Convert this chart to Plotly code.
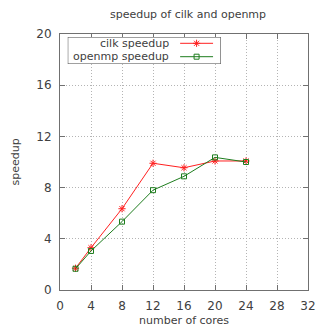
import plotly.graph_objects as go

cores = [2, 4, 8, 12, 16, 20, 24]
cilk = [1.7, 3.3, 6.35, 9.9, 9.55, 10.08, 10.08]
openmp = [1.66, 3.05, 5.34, 7.8, 8.88, 10.36, 10.0]
x_ticks = [0, 4, 8, 12, 16, 20, 24, 28, 32]
y_ticks = [0, 4, 8, 12, 16, 20]
legend_names = ["cilk speedup", "openmp speedup"]

RED = "#ff2020"
GREEN = "#1e7d1e"
TXT = "#404040"
AX = "#707070"
FONT = "DejaVu Sans"

fig = go.Figure()
fig.add_trace(go.Scatter(x=cores, y=cilk, mode="lines+markers",
                         line=dict(color=RED, width=1),
                         marker=dict(symbol="asterisk-open", size=6, color=RED, line=dict(color=RED, width=1)),
                         showlegend=False))
fig.add_trace(go.Scatter(x=cores, y=openmp, mode="lines+markers",
                         line=dict(color=GREEN, width=1),
                         marker=dict(symbol="square-open", size=5, color=GREEN, line=dict(color=GREEN, width=1)),
                         showlegend=False))

# custom legend (gnuplot style: text right, sample line on right)
# legend box spans pixels x 68..226, y 37..64 ; in x2/y2 units [0,1]
def lx(px):
    return (px - 68) / (226 - 68)

def ly(py):
    return (64 - py) / (64 - 37)

leg_rows = [ly(43.3), ly(56.7)]
for name, col, sym, sz, ry in [(legend_names[0], RED, "asterisk-open", 6, leg_rows[0]),
                               (legend_names[1], GREEN, "square-open", 5, leg_rows[1])]:
    fig.add_trace(go.Scatter(x=[lx(184), lx(218)], y=[ry, ry], mode="lines", xaxis="x2", yaxis="y2",
                             line=dict(color=col, width=1), showlegend=False, hoverinfo="skip"))
    fig.add_trace(go.Scatter(x=[lx(201)], y=[ry], mode="markers", xaxis="x2", yaxis="y2",
                             marker=dict(symbol=sym, size=sz, color=col, line=dict(color=col, width=1)),
                             showlegend=False, hoverinfo="skip"))
    fig.add_annotation(x=lx(175), y=ry, xref="x2", yref="y2", text=name, showarrow=False,
                       xanchor="right", yanchor="middle", xshift=0,
                       font=dict(family=FONT, size=11, color=TXT))

fig.add_annotation(x=0.5, y=-30/256, xref="paper", yref="paper", text="number of cores",
                   showarrow=False, xanchor="center", yanchor="middle",
                   font=dict(family=FONT, size=11, color=TXT))
fig.add_annotation(x=(14 - 60) / 256, y=0.5, xref="paper", yref="paper", text="speedup",
                   showarrow=False, xanchor="center", yanchor="middle", textangle=-90,
                   font=dict(family=FONT, size=11, color=TXT))

fig.update_layout(
    width=324, height=328,
    margin=dict(l=60, r=8, t=34, b=38),
    paper_bgcolor="white", plot_bgcolor="white",
    font=dict(family=FONT, size=11, color=TXT),
    title=dict(text="speedup of cilk and openmp", x=188/324, xanchor="center",
               y=1 - 14/328, yanchor="middle", yref="container",
               font=dict(family=FONT, size=11, color=TXT)),
    xaxis=dict(range=[0, 32], tickvals=x_ticks, showgrid=True, gridcolor="#b4b4b4", griddash="1px,2px",
               zeroline=False, showline=True, linecolor=AX, linewidth=1, mirror="ticks",
               ticks="inside", ticklen=5, tickcolor=AX, tickfont=dict(size=12),
               ticklabelstandoff=5),
    yaxis=dict(range=[0, 20], tickvals=y_ticks, showgrid=True, gridcolor="#b4b4b4", griddash="1px,2px",
               zeroline=False, showline=True, linecolor=AX, linewidth=1, mirror="ticks",
               ticks="inside", ticklen=5, tickcolor=AX, tickfont=dict(size=12),
               ticklabelstandoff=5),
    xaxis2=dict(domain=[(68-60)/256, (226-60)/256], range=[0, 1], anchor="y2",
                visible=False, fixedrange=True),
    yaxis2=dict(domain=[(290-64)/256, (290-37)/256], range=[0, 1], anchor="x2",
                visible=False, fixedrange=True),
)
fig.add_shape(type="rect", xref="x2", yref="y2", x0=0, x1=1, y0=0, y1=1,
              line=dict(color="#404040", width=1), fillcolor="white", layer="below")

fig.write_html("out.html")
